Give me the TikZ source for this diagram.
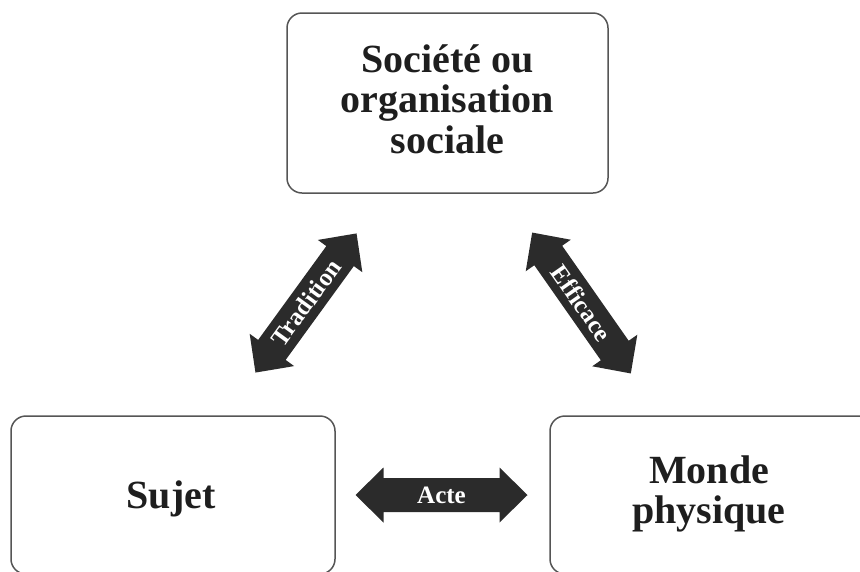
\documentclass[tikz,border=0pt]{standalone}
\usepackage{fontspec}
\setmainfont{Liberation Serif}
\definecolor{boxline}{HTML}{555555}
\definecolor{arrowfill}{HTML}{2B2B2B}
\definecolor{textdark}{HTML}{1E1E1E}
\begin{document}
\begin{tikzpicture}[x=1pt,y=1pt,
  box/.style={draw=boxline, line width=1.5pt, rounded corners=15pt, inner sep=0pt},
  boxtext/.style={font=\fontsize{40}{40.5}\selectfont\bfseries, text=textdark, align=center, inner sep=0pt},
  arrowlabel/.style={font=\fontsize{25}{25}\selectfont\bfseries, text=white, inner sep=0pt},
  dblarrow/.pic={\fill[arrowfill] (-86,0) -- (-58,27.5) -- (-58,17) -- (58,17) -- (58,27.5) -- (86,0)
      -- (58,-27.5) -- (58,-17) -- (-58,-17) -- (-58,-27.5) -- cycle;}]
\clip (0,0) rectangle (860,-571);
\useasboundingbox (0,0) rectangle (860,-571);
% boxes
\node[box, minimum width=321pt, minimum height=180pt] (soc) at (447.5,-103) {};
\node[box, minimum width=324pt, minimum height=158pt] (sujet) at (173,-495) {};
\node[box, minimum width=324pt, minimum height=158pt] (monde) at (712,-495) {};
% texts
\node[boxtext] (soct) at (447.5,-99) {Société ou\\organisation\\sociale};
\node[boxtext, anchor=base] (sujett) at (171,-508) {Sujet};
\node[boxtext] (mondet) at (709,-494) {Monde\\physique};
% arrows
\pic[rotate=54] at (306,-303) {dblarrow};
\node[arrowlabel, rotate=54] (trad) at (306,-303) {Tradition};
\pic[rotate=-55] at (581.5,-303) {dblarrow};
\node[arrowlabel, rotate=-55] (eff) at (581.5,-303) {Efficace};
\pic at (441.5,-495) {dblarrow};
\node[arrowlabel] (acte) at (441.5,-495) {Acte};
\end{tikzpicture}
\end{document}
